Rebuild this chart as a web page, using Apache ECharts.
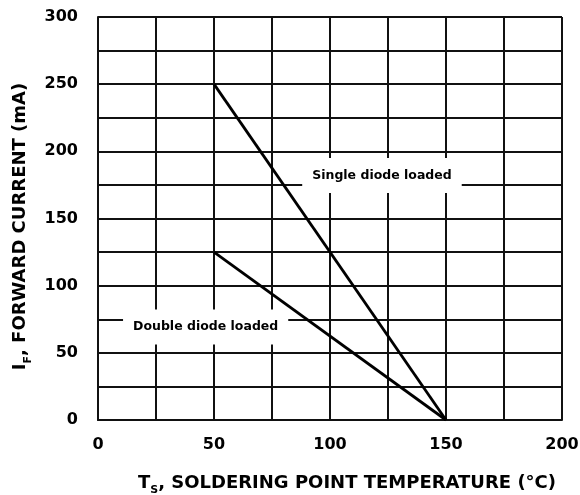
<!DOCTYPE html>
<html>
<head>
<meta charset="utf-8">
<script src="https://cdn.jsdelivr.net/npm/echarts@6/dist/echarts.min.js"></script>
<style>html,body{margin:0;padding:0;background:#fff}#c{width:580px;height:495px}</style>
</head>
<body>
<div id="c"></div>
<script>
var xTicks = [0, 50, 100, 150, 200];
var yTicks = [0, 50, 100, 150, 200, 250, 300];
var singleDiode = [[50, 250], [150, 0]];
var doubleDiode = [[50, 125], [150, 0]];
var labelSingle = {name: 'Single diode loaded', value: [122.4, 182]};
var labelDouble = {name: 'Double diode loaded', value: [46.4, 69.2]};

var FONT = '"DejaVu Sans", Verdana, sans-serif';
var chart = echarts.init(document.getElementById('c'));
function tickFmt(list){ return function(v){ return list.indexOf(v) >= 0 ? String(v) : ''; }; }
var rich = {
  b: {fontFamily: FONT, fontWeight: 'bold', fontSize: 18, color: '#000', lineHeight: 22, verticalAlign: 'bottom'},
  s: {fontFamily: FONT, fontWeight: 'bold', fontSize: 11, color: '#000', lineHeight: 14, verticalAlign: 'bottom', padding: [0,0,-4,0]}
};
chart.setOption({
  animation: false,
  backgroundColor: '#fff',
  grid: {left: 98, right: 18, top: 17, bottom: 75, containLabel: false, outerBoundsMode: 'none'},
  xAxis: {
    type: 'value', min: 0, max: 200, interval: 25,
    axisLine: {show: true, lineStyle: {color: '#111', width: 2}},
    axisTick: {show: false},
    splitLine: {show: true, lineStyle: {color: '#111', width: 2}},
    axisLabel: {formatter: tickFmt(xTicks), fontFamily: FONT, fontWeight: 'bold', fontSize: 16, color: '#000', margin: 17},
    name: '{b|T}{s|S}{b|, SOLDERING POINT TEMPERATURE (°C)}',
    nameLocation: 'middle', nameGap: 50,
    nameTextStyle: {rich: rich, padding: [0, 0, 0, 34]}
  },
  yAxis: {
    type: 'value', min: 0, max: 300, interval: 25,
    axisLine: {show: true, lineStyle: {color: '#111', width: 2}},
    axisTick: {show: false},
    splitLine: {show: true, lineStyle: {color: '#111', width: 2}},
    axisLabel: {formatter: tickFmt(yTicks), fontFamily: FONT, fontWeight: 'bold', fontSize: 16, color: '#000', margin: 20},
    name: '{b|I}{s|F}{b|, FORWARD CURRENT (mA)}',
    nameLocation: 'middle', nameGap: 60,
    nameTextStyle: {rich: rich, padding: [0, 16, 0, 0]}
  },
  series: [
    {type: 'line', data: singleDiode, symbol: 'none', lineStyle: {color: '#000', width: 2.8}, z: 3},
    {type: 'line', data: doubleDiode, symbol: 'none', lineStyle: {color: '#000', width: 2.8}, z: 3},
    {type: 'scatter', symbolSize: 0, z: 4, silent: true,
     itemStyle: {opacity: 1},
     data: [labelSingle, labelDouble],
     label: {show: true, position: 'inside', formatter: '{b}', fontFamily: FONT, fontWeight: 'bold', fontSize: 12.5, color: '#000',
             backgroundColor: '#fff', opacity: 1, padding: [11, 10]}}
  ]
});
</script>
</body>
</html>
